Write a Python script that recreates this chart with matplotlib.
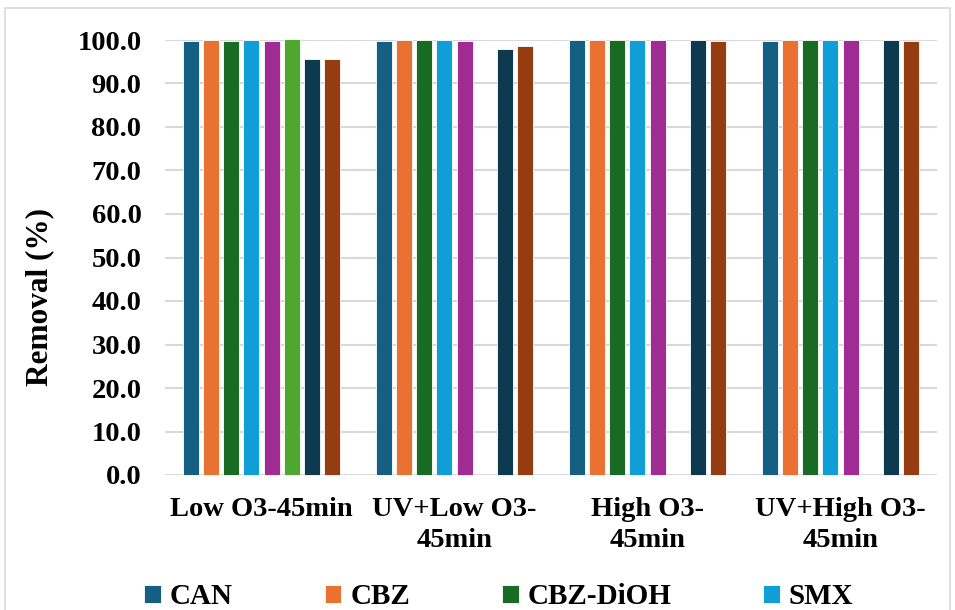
import matplotlib
matplotlib.use("Agg")
import matplotlib.pyplot as plt
import numpy as np
from matplotlib.patches import Rectangle

categories = ["Low O3-45min", "UV+Low O3-\n45min", "High O3-\n45min", "UV+High O3-\n45min"]
series_names = ["CAN", "CBZ", "CBZ-DiOH", "SMX", "Series 5", "Series 6", "Series 7", "Series 8"]
can = [99.7, 99.8, 100.0, 99.7]
cbz = [100.0, 100.0, 100.0, 100.0]
cbz_dioh = [99.8, 100.0, 100.0, 100.0]
smx = [100.0, 100.0, 100.0, 100.0]
series5 = [99.8, 99.8, 100.0, 99.9]
series6 = [100.3, np.nan, np.nan, np.nan]
series7 = [95.6, 97.9, 100.0, 100.0]
series8 = [95.6, 98.7, 99.7, 99.7]
yticks = [0, 10, 20, 30, 40, 50, 60, 70, 80, 90, 100]

values = [can, cbz, cbz_dioh, smx, series5, series6, series7, series8]
colors = ["#156082", "#E97132", "#196B24", "#0F9ED5", "#A02B93", "#4EA72E", "#0E3A50", "#953D10"]

plt.rcParams['font.family'] = ['Liberation Serif', 'DejaVu Serif']
plt.rcParams['font.weight'] = 'bold'

fig = plt.figure(figsize=(9.55, 6.1), dpi=100)
ax = fig.add_axes([165/955, 135/610, 772/955, 435/610])

x = np.arange(len(categories))
pitch = 0.105
width = 0.083
handles = []
for i, (vals, c, name) in enumerate(zip(values, colors, series_names)):
    offs = (i - 3.5) * pitch
    b = ax.bar(x + offs, vals, width, color=c, edgecolor="white", linewidth=0.6,
               label=name, zorder=3, clip_on=False)
    handles.append(b)

ax.set_xlim(-0.5, 3.5)
ax.set_ylim(0, 100)
ax.set_yticks(yticks)
ax.set_yticklabels([f"{v:.1f}" for v in yticks], fontsize=20.5, fontweight='bold')
ax.set_xticks(x)
ax.set_xticklabels(categories, fontsize=20.5, fontweight='bold', linespacing=1.32)
ax.tick_params(axis='both', length=0)
ax.tick_params(axis='x', pad=16)
ax.tick_params(axis='y', pad=17)
ax.grid(axis='y', color="#D9D9D9", linewidth=1.5, zorder=0)
for s in ax.spines.values():
    s.set_visible(False)
fig.text(40/955, 1 - 297/610, "Removal (%)", rotation=90, ha='center', va='center',
         fontsize=22.5, fontweight='bold')

leg = fig.legend(handles[:4], series_names[:4], loc='center left', bbox_to_anchor=(144/955, 1 - 597/610),
                 ncol=4, frameon=False, fontsize=21, handlelength=0.58, handleheight=0.55,
                 handletextpad=0.3, columnspacing=3.15, borderaxespad=0, borderpad=0)

fig.patches.append(Rectangle((5/955, -0.1), 945/955, 1.1 - 8/610, transform=fig.transFigure,
                             fill=False, edgecolor="#D9D9D9", linewidth=1.2))

fig.savefig("out.png", dpi=100)
